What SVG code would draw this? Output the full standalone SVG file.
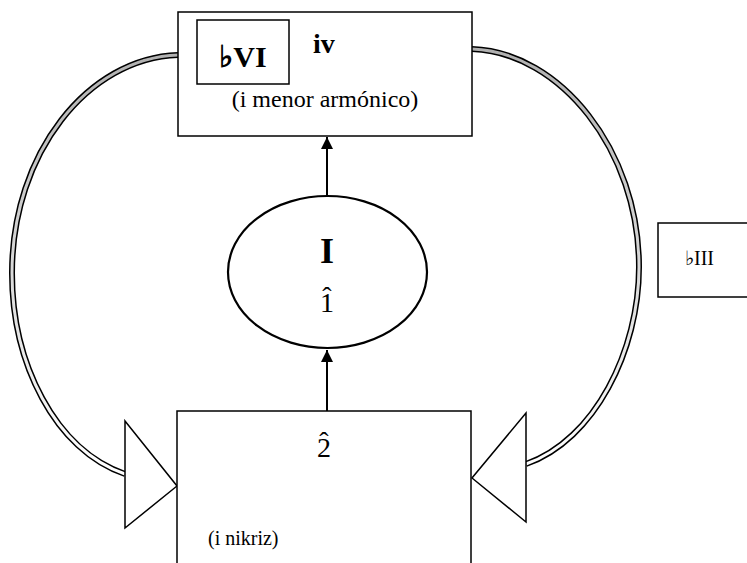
<svg xmlns="http://www.w3.org/2000/svg" width="747" height="563" viewBox="0 0 747 563">
<style>
.box{fill:#fff;stroke:#000;stroke-width:1.5}
.t{font-family:"Liberation Serif","Times New Roman",serif;fill:#000}
.b{font-weight:bold}
.outer{fill:none;stroke:#000;stroke-width:6}
.inner{fill:none;stroke:url(#g);stroke-width:3}
.head{fill:#fff;stroke:#000;stroke-width:1.5;stroke-linejoin:miter}
.ln{stroke:#000;stroke-width:2;fill:none;marker-end:url(#ah)}
</style>
<defs>
<linearGradient id="g" gradientUnits="userSpaceOnUse" x1="0" y1="50" x2="0" y2="470">
<stop offset="0" stop-color="#b0b0b0"/>
<stop offset="0.35" stop-color="#cccccc"/>
<stop offset="1" stop-color="#ffffff"/>
</linearGradient>
<marker id="ah" viewBox="0 0 12 13" refX="12" refY="6" markerWidth="12" markerHeight="13" markerUnits="userSpaceOnUse" orient="auto">
<path d="M0,0 L12,6 L0,12 Z" fill="#000"/>
</marker>
</defs>
<g id="connectors">
<path class="outer" d="M178,55 C88,58 12,153 12,273 C12,363 55,450 125,474"/>
<path class="inner" d="M178,55 C88,58 12,153 12,273 C12,363 55,450 125,474"/>
<path class="outer" d="M472,49 C560,52 639,150 639,267 C639,350 595,440 526,464"/>
<path class="inner" d="M472,49 C560,52 639,150 639,267 C639,350 595,440 526,464"/>
<polygon class="head" points="125,421 177,486 125,528"/>
<polygon class="head" points="526,413 472,478 526,522"/>
<line class="ln" x1="327" y1="196" x2="327" y2="137"/>
<line class="ln" x1="327" y1="411" x2="327" y2="350"/>
</g>
<g id="top">
<rect class="box" x="178" y="12" width="294" height="124"/>
<rect class="box" x="197" y="20" width="92" height="64"/>
<text class="t b" x="243" y="67" font-size="30" text-anchor="middle">♭VI</text>
<text class="t b" x="313" y="53" font-size="28">iv</text>
<text class="t" x="325" y="107" font-size="24" text-anchor="middle">(i menor armónico)</text>
</g>
<g id="tonic">
<ellipse cx="327.5" cy="272" rx="99.5" ry="76" fill="#fff" stroke="#000" stroke-width="2.2"/>
<text class="t b" x="327" y="263" font-size="36" text-anchor="middle">I</text>
<text class="t" font-size="28" text-anchor="middle"><tspan x="327" y="312">1</tspan><tspan x="327" y="306">ˆ</tspan></text>
</g>
<g id="bottom">
<rect class="box" x="177" y="411" width="294" height="200"/>
<text class="t" font-size="28" text-anchor="middle"><tspan x="324" y="457">2</tspan><tspan x="324" y="451">ˆ</tspan></text>
<text class="t" x="208" y="545" font-size="20">(i nikriz)</text>
</g>
<g id="biii">
<rect class="box" x="658" y="223" width="100" height="74"/>
<text class="t" x="685" y="265" font-size="20">♭III</text>
</g>
</svg>
